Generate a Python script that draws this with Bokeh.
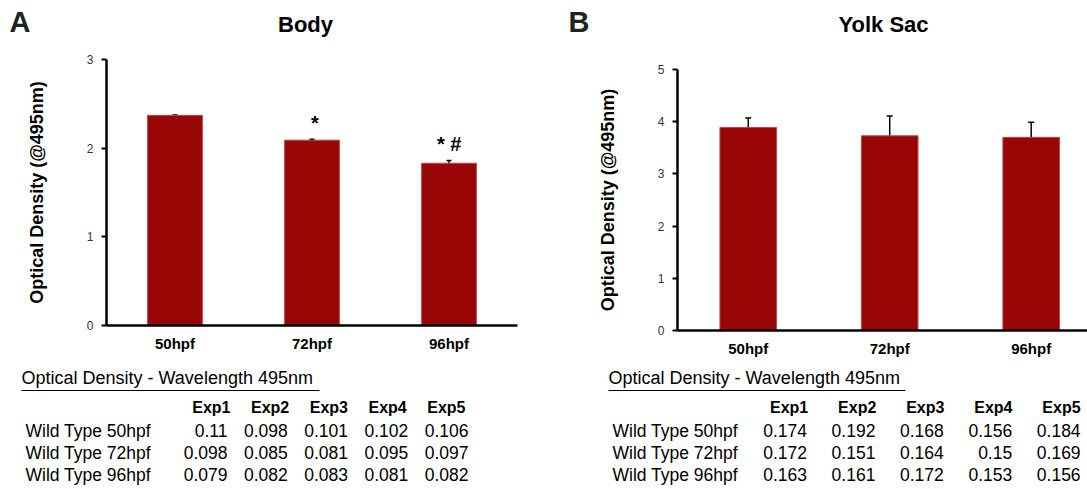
from bokeh.plotting import figure
from bokeh.models import Range1d, FixedTicker, ColumnDataSource, Whisker, TeeHead
from bokeh.layouts import row, column
from bokeh.embed import file_html
from bokeh.resources import INLINE
from bokeh.core.properties import value

# ---------------- data ----------------
categories = ["50hpf", "72hpf", "96hpf"]

body_means = [2.37, 2.09, 1.83]
body_errs = [0.005, 0.01, 0.03]
body_marks = ["", "*", "*  #"]

yolk_means = [3.89, 3.73, 3.70]
yolk_errs = [0.18, 0.38, 0.29]

table_title = "Optical Density - Wavelength 495nm"
exp_labels = ["Exp1", "Exp2", "Exp3", "Exp4", "Exp5"]
row_labels = ["Wild Type 50hpf", "Wild Type 72hpf", "Wild Type 96hpf"]
body_table = [
    [0.11, 0.098, 0.101, 0.102, 0.106],
    [0.098, 0.085, 0.081, 0.095, 0.097],
    [0.079, 0.082, 0.083, 0.081, 0.082],
]
yolk_table = [
    [0.174, 0.192, 0.168, 0.156, 0.184],
    [0.172, 0.151, 0.164, 0.15, 0.169],
    [0.163, 0.161, 0.172, 0.153, 0.156],
]

FONT = "Liberation Sans"
BAR = "#990606"
SHIFT = 0.42  # baseline correction (fraction of font size)


def by(y, size):
    """baseline position corrected for the renderer's alphabetic offset"""
    return y - SHIFT * size


def blank_fig(w, h):
    p = figure(width=w, height=h, x_range=Range1d(0, w), y_range=Range1d(h, 0),
               output_backend="svg", toolbar_location=None,
               x_axis_location=None, y_axis_location=None,
               min_border=0)
    p.grid.visible = False
    p.outline_line_color = None
    return p


def header(w, letter, letter_x, title, title_x):
    p = blank_fig(w, 50)
    p.text(x=[letter_x], y=[by(34, 29)], text=[letter], text_font=value(FONT),
           text_font_style="bold", text_font_size="29px", text_color="#222222",
           text_baseline="alphabetic", text_align="left")
    p.text(x=[title_x], y=[by(33, 22)], text=[title], text_font=value(FONT),
           text_font_style="bold", text_font_size="22px", text_color="black",
           text_baseline="alphabetic", text_align="center")
    return p


def chart(w, h, means, errs, ymax, x_end, bl, br, bt, bb, marks=None, head=6):
    p = figure(width=w, height=h, x_range=Range1d(-0.5, x_end), y_range=Range1d(0, ymax),
               output_backend="svg", toolbar_location=None,
               min_border_left=bl, min_border_right=br, min_border_top=bt, min_border_bottom=bb)
    p.grid.visible = False
    p.outline_line_color = None
    xs = list(range(len(categories)))
    src = ColumnDataSource(dict(
        x=xs, top=means,
        upper=[m + e for m, e in zip(means, errs)],
        lower=[m - e for m, e in zip(means, errs)],
        mark=marks if marks else [""] * len(xs),
    ))
    p.vbar(x="x", top="top", bottom=0, width=0.4, source=src,
           fill_color=BAR, line_color="#b84a4a", line_width=1)
    p.add_layout(Whisker(base="x", upper="upper", lower="lower", source=src,
                         line_color="black", line_width=1.5,
                         upper_head=TeeHead(size=head, line_color="black", line_width=1.5),
                         lower_head=TeeHead(size=head, line_color="black", line_width=1.5)))
    if marks:
        p.text(x="x", y="upper", text="mark", source=src, text_align="center",
               text_baseline="alphabetic", y_offset=-(8 + SHIFT * 20), x_offset=3,
               text_font=value(FONT), text_font_style="bold", text_font_size="20px",
               text_color="black")

    xa = p.xaxis[0]
    xa.ticker = FixedTicker(ticks=xs)
    xa.major_label_overrides = {i: c for i, c in enumerate(categories)}
    xa.major_tick_out = 0
    xa.major_tick_in = 0
    xa.minor_tick_line_color = None
    xa.axis_line_width = 2.5
    xa.axis_line_color = "black"
    xa.major_label_text_font = FONT
    xa.major_label_text_font_style = "bold"
    xa.major_label_text_font_size = "15px"
    xa.major_label_text_color = "black"
    xa.major_label_standoff = 9

    ya = p.yaxis[0]
    ya.ticker = FixedTicker(ticks=list(range(ymax + 1)))
    ya.major_tick_out = 5
    ya.major_tick_in = 0
    ya.major_tick_line_width = 2
    ya.minor_tick_line_color = None
    ya.axis_line_width = 2.5
    ya.axis_line_color = "black"
    ya.major_label_text_font = FONT
    ya.major_label_text_font_size = "12px"
    ya.major_label_text_color = "#333333"
    ya.major_label_standoff = 8
    ya.axis_label = "Optical Density (@495nm)"
    ya.axis_label_text_font = FONT
    ya.axis_label_text_font_style = "bold"
    ya.axis_label_text_font_size = "18px"
    ya.axis_label_text_color = "black"
    ya.axis_label_standoff = 37
    return p


def table(w, data, title_x, title_w, label_x, num_x0, num_dx, hdr_x0, hdr_dx):
    p = blank_fig(w, 129)
    p.text(x=[title_x], y=[by(25, 18)], text=[table_title], text_font=value(FONT),
           text_font_size="18px", text_color="black", text_baseline="alphabetic",
           text_align="left")
    p.segment(x0=[title_x], y0=[30], x1=[title_x + title_w], y1=[30],
              line_color="black", line_width=1)
    hx = [hdr_x0 + hdr_dx * i for i in range(len(exp_labels))]
    p.text(x=hx, y=[by(54, 16)] * len(exp_labels), text=exp_labels, text_font=value(FONT),
           text_font_style="bold", text_font_size="16px", text_color="black",
           text_baseline="alphabetic", text_align="right")
    row_y = [by(v, 17.5) for v in (77.5, 99.5, 121.5)]
    p.text(x=[label_x] * len(row_labels), y=row_y, text=row_labels, text_font=value(FONT),
           text_font_size="17.5px", text_color="black", text_baseline="alphabetic",
           text_align="left")
    xs, ys, ts = [], [], []
    for r, vals in enumerate(data):
        for c, v in enumerate(vals):
            xs.append(num_x0 + num_dx * c)
            ys.append(row_y[r])
            ts.append(str(v))
    p.text(x=xs, y=ys, text=ts, text_font=value(FONT), text_font_size="17.5px",
           text_color="black", text_baseline="alphabetic", text_align="right")
    return p


WA, WB = 560, 527

headA = header(WA, "A", 9, "Body", 305)
chartA = chart(WA, 310, body_means, body_errs, 3, 2.5, 106, 43, 9, 35, marks=body_marks, head=5)
tableA = table(WA, body_table, 21, 298, 25, 227, 60.25, 230, 58.75)

headB = header(WB, "B", 8, "Yolk Sac", 323)
chartB = chart(WB, 310, yolk_means, yolk_errs, 5, 2.398, 117, 0, 19, 30, head=6)
tableB = table(WB, yolk_table, 48, 297, 52, 246.5, 68.4, 247.7, 68.1)

colA = column(row(headA), row(chartA), row(tableA))
colB = column(row(headB), row(chartB), row(tableB))
p = row(colA, colB)

open("out.html", "w").write(file_html(p, INLINE))
